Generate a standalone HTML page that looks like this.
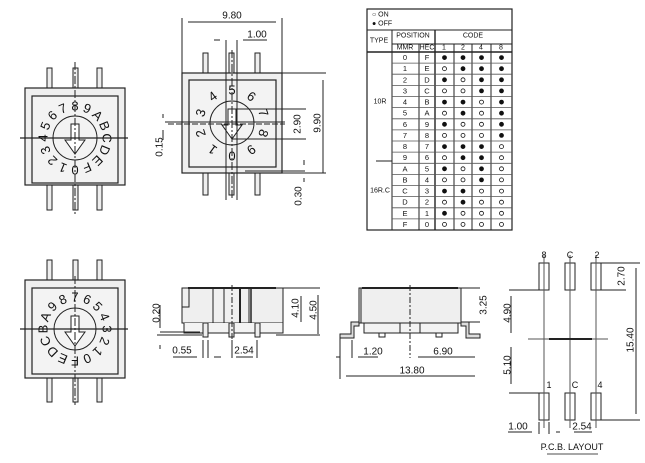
<!DOCTYPE html>
<html><head><meta charset="utf-8"><style>
html,body{margin:0;padding:0;background:#fff;}
svg{display:block;font-family:"Liberation Sans",sans-serif;}
</style></head><body>
<svg width="645" height="463" viewBox="0 0 645 463" xmlns="http://www.w3.org/2000/svg">
<g stroke="#222" fill="none" stroke-width="1">
<g fill="#eee"><rect x="47" y="68" width="5" height="20"/><rect x="73" y="68" width="5" height="20"/><rect x="97" y="68" width="5" height="20"/>
<rect x="47" y="185" width="5" height="25"/><rect x="73" y="185" width="5" height="25"/><rect x="97" y="185" width="5" height="25"/></g>
<rect x="25" y="88" width="100" height="97" fill="#efefef" stroke-width="1.2"/>
<rect x="32" y="96" width="86" height="87" fill="#f3f3f3" stroke-width="1.2"/>
<circle cx="75" cy="138" r="22" fill="#f3f3f3"/>
<path d="M71 124h8v16h6l-10 14l-10-14h6z" fill="#fff"/>
<line x1="20" y1="138" x2="128" y2="138" stroke-width="1.2"/>
<line x1="75" y1="62" x2="75" y2="215" stroke-dasharray="8 2 2 2"/>
<g fill="#eee"><rect x="203" y="53" width="5" height="20"/><rect x="229" y="53" width="5" height="20"/><rect x="255" y="53" width="5" height="20"/>
<rect x="203" y="173" width="5" height="22"/><rect x="229" y="173" width="5" height="22"/><rect x="255" y="173" width="5" height="22"/></g>
<rect x="182" y="73" width="100" height="100" fill="#efefef" stroke-width="1.2"/>
<rect x="189" y="80" width="87" height="87" fill="#f3f3f3" stroke-width="1.2"/>
<circle cx="232" cy="123" r="22" fill="#f3f3f3"/>
<path d="M228 109h8v16h6l-10 14l-10-14h6z" fill="#fff"/>
<line x1="226" y1="40" x2="226" y2="200"/><line x1="237" y1="40" x2="237" y2="200"/>
<line x1="232" y1="50" x2="232" y2="200" stroke-dasharray="8 2 2 2"/>
<line x1="165" y1="122" x2="285" y2="122"/><line x1="168" y1="124" x2="285" y2="124" stroke-dasharray="6 2"/>
<line x1="182" y1="18" x2="182" y2="73"/><line x1="282" y1="18" x2="282" y2="73"/>
<line x1="188" y1="22" x2="276" y2="22"/>
<line x1="214" y1="40" x2="220" y2="40"/><line x1="243" y1="40" x2="267" y2="40"/>
<line x1="282" y1="73" x2="326" y2="73"/><line x1="256" y1="173" x2="326" y2="173"/>
<line x1="323" y1="80" x2="323" y2="173"/>
<line x1="232" y1="109" x2="306" y2="109"/><line x1="232" y1="139" x2="306" y2="139"/>
<line x1="163" y1="114" x2="163" y2="118"/><line x1="163" y1="130" x2="163" y2="140"/>
<line x1="245" y1="171" x2="305" y2="171"/>
<line x1="304" y1="160" x2="304" y2="165"/><line x1="304" y1="178" x2="304" y2="182"/>
<rect x="367" y="9" width="145" height="221" stroke-width="1.2"/>
<line x1="367" y1="30" x2="512" y2="30"/>
<line x1="392" y1="44" x2="435" y2="44"/><line x1="435" y1="44" x2="512" y2="44"/>
<line x1="392" y1="52" x2="512" y2="52" stroke-width="1.5"/>
<line x1="367" y1="52" x2="392" y2="52" stroke-width="1.5"/>
<line x1="392" y1="30" x2="392" y2="230"/><line x1="419" y1="44" x2="419" y2="230"/>
<line x1="435" y1="30" x2="435" y2="230" stroke-width="1.4"/>
<line x1="454" y1="44" x2="454" y2="230"/><line x1="472" y1="44" x2="472" y2="230"/><line x1="491" y1="44" x2="491" y2="230"/>
<g stroke="#555" stroke-width="0.8">
<line x1="392" y1="63.1" x2="512" y2="63.1"/><line x1="392" y1="74.2" x2="512" y2="74.2"/><line x1="392" y1="85.4" x2="512" y2="85.4"/><line x1="392" y1="96.5" x2="512" y2="96.5"/><line x1="392" y1="107.6" x2="512" y2="107.6"/><line x1="392" y1="118.8" x2="512" y2="118.8"/><line x1="392" y1="129.9" x2="512" y2="129.9"/><line x1="392" y1="141" x2="512" y2="141"/><line x1="392" y1="152.1" x2="512" y2="152.1"/><line x1="392" y1="163.3" x2="512" y2="163.3"/><line x1="392" y1="174.4" x2="512" y2="174.4"/><line x1="392" y1="185.5" x2="512" y2="185.5"/><line x1="392" y1="196.6" x2="512" y2="196.6"/><line x1="392" y1="207.8" x2="512" y2="207.8"/><line x1="392" y1="218.9" x2="512" y2="218.9"/>
</g>
<line x1="376" y1="161" x2="392" y2="161"/>
<g fill="#eee"><rect x="47" y="260" width="5" height="20"/><rect x="73" y="260" width="5" height="20"/><rect x="97" y="260" width="5" height="20"/>
<rect x="47" y="378" width="5" height="24"/><rect x="73" y="378" width="5" height="24"/><rect x="97" y="378" width="5" height="24"/></g>
<rect x="25" y="280" width="100" height="98" fill="#efefef" stroke-width="1.2"/>
<rect x="32" y="288" width="86" height="86" fill="#f3f3f3" stroke-width="1.2"/>
<circle cx="75" cy="329" r="21" fill="#f3f3f3"/>
<path d="M71 316h8v16h6l-10 14l-10-14h6z" fill="#fff"/>
<line x1="20" y1="329" x2="128" y2="329" stroke-width="1.2"/>
<line x1="75" y1="276" x2="75" y2="405" stroke-dasharray="8 2 2 2"/>
<rect x="182" y="288" width="101" height="35" fill="#efefef"/>
<line x1="188" y1="288" x2="276" y2="288" stroke-width="2"/>
<rect x="182" y="288" width="7" height="19"/>
<line x1="213" y1="288" x2="213" y2="323"/><line x1="224" y1="288" x2="224" y2="323"/><line x1="240" y1="288" x2="240" y2="323" stroke-width="2"/><line x1="249" y1="288" x2="249" y2="323"/><line x1="251" y1="288" x2="251" y2="323" stroke-width="1.5"/>
<path d="M184 323v10h99v-10" fill="#f3f3f3"/>
<rect x="203" y="323" width="5" height="14" fill="#eee"/><rect x="229" y="323" width="5" height="14" fill="#eee"/><rect x="255" y="323" width="5" height="14" fill="#eee"/>
<line x1="232" y1="285" x2="232" y2="340" stroke-dasharray="6 2 2 2"/>
<line x1="157" y1="335" x2="202" y2="335"/><line x1="160" y1="332" x2="200" y2="332"/>
<line x1="283" y1="288" x2="320" y2="288"/><line x1="276" y1="335" x2="320" y2="335"/>
<line x1="301" y1="296" x2="301" y2="322"/><line x1="318" y1="295" x2="318" y2="334"/>
<line x1="160" y1="305" x2="160" y2="328"/><line x1="160" y1="345" x2="160" y2="349"/>
<line x1="173" y1="357" x2="197" y2="357"/><line x1="203" y1="340" x2="203" y2="358"/><line x1="208" y1="340" x2="208" y2="358"/><line x1="214" y1="357" x2="221" y2="357"/>
<line x1="232" y1="340" x2="232" y2="358"/><line x1="257" y1="340" x2="257" y2="358"/><line x1="236" y1="357" x2="253" y2="357"/>
<rect x="359" y="288" width="102" height="35" fill="#efefef"/>
<line x1="362" y1="288" x2="458" y2="288" stroke-width="2"/><line x1="361" y1="288" x2="361" y2="323"/>
<rect x="364" y="323" width="94" height="10" fill="#f3f3f3"/>
<line x1="400" y1="323" x2="400" y2="333"/><line x1="420" y1="323" x2="420" y2="333"/>
<path d="M359 322h-8v12h-11v4h14v-12h5z" fill="#ddd"/>
<path d="M461 322h8v12h11v4h-14v-12h-5z" fill="#ddd"/>
<rect x="379" y="333" width="6" height="4"/><rect x="436" y="333" width="6" height="4"/>
<line x1="410" y1="285" x2="410" y2="358" stroke-dasharray="6 2 2 2"/>
<line x1="340" y1="338" x2="340" y2="379"/><line x1="352" y1="340" x2="352" y2="358"/>
<line x1="336" y1="357" x2="340" y2="357"/><line x1="358" y1="357" x2="378" y2="357"/><line x1="418" y1="357" x2="475" y2="357"/>
<line x1="346" y1="376" x2="475" y2="376"/>
<line x1="461" y1="288" x2="480" y2="288"/><line x1="469" y1="322" x2="480" y2="322"/>
<rect x="539" y="263" width="10" height="27"/><rect x="565" y="263" width="10" height="27"/><rect x="591" y="263" width="10" height="27"/>
<rect x="539" y="393" width="10" height="27"/><rect x="565" y="393" width="10" height="27"/><rect x="591" y="393" width="10" height="27"/>
<path d="M544 255V428M570 255V428M596 255V428" stroke="#555"/>
<path d="M528 339H608" stroke="#555"/>
<line x1="549" y1="339" x2="592" y2="339" stroke-width="2"/>
<line x1="509" y1="290" x2="539" y2="290"/><line x1="509" y1="393" x2="539" y2="393"/>
<line x1="601" y1="263" x2="640" y2="263"/><line x1="601" y1="290" x2="626" y2="290"/><line x1="601" y1="420" x2="640" y2="420"/>
<line x1="636" y1="268" x2="636" y2="414"/>
<line x1="511" y1="296" x2="511" y2="333"/><line x1="511" y1="347" x2="511" y2="384"/>
<line x1="508" y1="432" x2="532" y2="432"/><line x1="539" y1="422" x2="539" y2="434"/><line x1="549" y1="422" x2="549" y2="434"/><line x1="556" y1="432" x2="560" y2="432"/>
<line x1="574" y1="432" x2="592" y2="432"/>
<line x1="547" y1="454" x2="598" y2="454" stroke="#888" stroke-width="1.5"/>
</g>

<g font-size="10" fill="#111" text-anchor="middle" dominant-baseline="central">
<g font-size="13">
<text transform="translate(75,170) rotate(-180)">0</text>
<text transform="translate(62.8,167.6) rotate(-157.5)">1</text>
<text transform="translate(52.4,160.6) rotate(-135)">2</text>
<text transform="translate(45.4,150.2) rotate(-112.5)">3</text>
<text transform="translate(43,138) rotate(-90)">4</text>
<text transform="translate(45.4,125.8) rotate(-67.5)">5</text>
<text transform="translate(52.4,115.4) rotate(-45)">6</text>
<text transform="translate(62.8,108.4) rotate(-22.5)">7</text>
<text transform="translate(75,106)">8</text>
<text transform="translate(87.2,108.4) rotate(22.5)">9</text>
<text transform="translate(97.6,115.4) rotate(45)">A</text>
<text transform="translate(104.6,125.8) rotate(67.5)">B</text>
<text transform="translate(107,138) rotate(90)">C</text>
<text transform="translate(104.6,150.2) rotate(112.5)">D</text>
<text transform="translate(97.6,160.6) rotate(135)">E</text>
<text transform="translate(87.2,167.6) rotate(157.5)">F</text>
</g>
<g font-size="13">
<text transform="translate(75,297)">7</text>
<text transform="translate(87.2,299.4) rotate(22.5)">6</text>
<text transform="translate(97.6,306.4) rotate(45)">5</text>
<text transform="translate(104.6,316.8) rotate(67.5)">4</text>
<text transform="translate(107,329) rotate(90)">3</text>
<text transform="translate(104.6,341.2) rotate(112.5)">2</text>
<text transform="translate(97.6,351.6) rotate(135)">1</text>
<text transform="translate(87.2,358.6) rotate(157.5)">0</text>
<text transform="translate(75,361) rotate(180)">F</text>
<text transform="translate(62.8,358.6) rotate(-157.5)">E</text>
<text transform="translate(52.4,351.6) rotate(-135)">D</text>
<text transform="translate(45.4,341.2) rotate(-112.5)">C</text>
<text transform="translate(43,329) rotate(-90)">B</text>
<text transform="translate(45.4,316.8) rotate(-67.5)">A</text>
<text transform="translate(52.4,306.4) rotate(-45)">9</text>
<text transform="translate(62.8,299.4) rotate(-22.5)">8</text>
</g>
<g font-size="13">
<text transform="translate(232,156)">0</text>
<text transform="translate(212.6,149.7) rotate(-144)">1</text>
<text transform="translate(200.6,133.2) rotate(-108)">2</text>
<text transform="translate(200.6,112.8) rotate(-72)">3</text>
<text transform="translate(212.6,96.3) rotate(-36)">4</text>
<text transform="translate(232,90)">5</text>
<text transform="translate(251.4,96.3) rotate(36)">6</text>
<text transform="translate(263.4,112.8) rotate(72)">7</text>
<text transform="translate(263.4,133.2) rotate(108)">8</text>
<text transform="translate(251.4,149.7) rotate(144)">9</text>
</g>
<text x="232" y="16">9.80</text>
<text x="257" y="35">1.00</text>
<text transform="translate(318,123) rotate(-90)">9.90</text>
<text transform="translate(298,124) rotate(-90)">2.90</text>
<text transform="translate(160,147) rotate(-90)">0.15</text>
<text transform="translate(299,196) rotate(-90)">0.30</text>
<text transform="translate(157,313) rotate(-90)">0.20</text>
<text transform="translate(296,308) rotate(-90)">4.10</text>
<text transform="translate(314,310) rotate(-90)">4.50</text>
<text x="182" y="351">0.55</text>
<text x="244" y="351">2.54</text>
<text x="373" y="352">1.20</text>
<text x="443" y="352">6.90</text>
<text x="412" y="371">13.80</text>
<text transform="translate(484,305) rotate(-90)">3.25</text>
<text x="544" y="255" font-size="9">8</text><text x="570" y="255" font-size="9">C</text><text x="597" y="255" font-size="9">2</text>
<text x="549" y="385" font-size="9">1</text><text x="575" y="385" font-size="9">C</text><text x="600" y="385" font-size="9">4</text>
<text transform="translate(622,276) rotate(-90)">2.70</text>
<text transform="translate(631,340) rotate(-90)">15.40</text>
<text transform="translate(508,313) rotate(-90)">4.90</text>
<text transform="translate(508,365) rotate(-90)">5.10</text>
<text x="518" y="427">1.00</text>
<text x="582" y="427">2.54</text>
<text x="572" y="447" font-size="9">P.C.B.  LAYOUT</text>
</g>

<g font-size="7" fill="#111" text-anchor="middle" dominant-baseline="central">
<text x="372" y="15" text-anchor="start">○ ON</text>
<text x="372" y="24" text-anchor="start">● OFF</text>
<text x="379" y="41">TYPE</text>
<text x="413" y="36">POSITION</text>
<text x="473" y="36">CODE</text>
<text x="405" y="48">MMR</text><text x="427" y="48">HEC</text>
<text x="444" y="48">1</text><text x="463" y="48">2</text><text x="481" y="48">4</text><text x="501" y="48">8</text>
<text x="380" y="102">10R</text>
<text x="380" y="191">16R.C</text>
</g>
<g font-size="7.5" fill="#111" text-anchor="middle" dominant-baseline="central">
<text x="405" y="57.6">0</text><text x="427" y="57.6">F</text>
<text x="405" y="68.7">1</text><text x="427" y="68.7">E</text>
<text x="405" y="79.8">2</text><text x="427" y="79.8">D</text>
<text x="405" y="90.9">3</text><text x="427" y="90.9">C</text>
<text x="405" y="102.1">4</text><text x="427" y="102.1">B</text>
<text x="405" y="113.2">5</text><text x="427" y="113.2">A</text>
<text x="405" y="124.3">6</text><text x="427" y="124.3">9</text>
<text x="405" y="135.4">7</text><text x="427" y="135.4">8</text>
<text x="405" y="146.6">8</text><text x="427" y="146.6">7</text>
<text x="405" y="157.7">9</text><text x="427" y="157.7">6</text>
<text x="405" y="168.8">A</text><text x="427" y="168.8">5</text>
<text x="405" y="179.9">B</text><text x="427" y="179.9">4</text>
<text x="405" y="191.1">C</text><text x="427" y="191.1">3</text>
<text x="405" y="202.2">D</text><text x="427" y="202.2">2</text>
<text x="405" y="213.3">E</text><text x="427" y="213.3">1</text>
<text x="405" y="224.4">F</text><text x="427" y="224.4">0</text>
</g>
<g stroke="#111" stroke-width="0.8">
<g fill="#111">
<circle cx="444.5" cy="57.6" r="2"/><circle cx="463" cy="57.6" r="2"/><circle cx="481.5" cy="57.6" r="2"/><circle cx="501.5" cy="57.6" r="2"/>
<circle cx="463" cy="68.7" r="2"/><circle cx="481.5" cy="68.7" r="2"/><circle cx="501.5" cy="68.7" r="2"/>
<circle cx="444.5" cy="79.8" r="2"/><circle cx="481.5" cy="79.8" r="2"/><circle cx="501.5" cy="79.8" r="2"/>
<circle cx="481.5" cy="90.9" r="2"/><circle cx="501.5" cy="90.9" r="2"/>
<circle cx="444.5" cy="102.1" r="2"/><circle cx="463" cy="102.1" r="2"/><circle cx="501.5" cy="102.1" r="2"/>
<circle cx="463" cy="113.2" r="2"/><circle cx="501.5" cy="113.2" r="2"/>
<circle cx="444.5" cy="124.3" r="2"/><circle cx="501.5" cy="124.3" r="2"/>
<circle cx="501.5" cy="135.4" r="2"/>
<circle cx="444.5" cy="146.6" r="2"/><circle cx="463" cy="146.6" r="2"/><circle cx="481.5" cy="146.6" r="2"/>
<circle cx="463" cy="157.7" r="2"/><circle cx="481.5" cy="157.7" r="2"/>
<circle cx="444.5" cy="168.8" r="2"/><circle cx="481.5" cy="168.8" r="2"/>
<circle cx="481.5" cy="179.9" r="2"/>
<circle cx="444.5" cy="191.1" r="2"/><circle cx="463" cy="191.1" r="2"/>
<circle cx="463" cy="202.2" r="2"/>
<circle cx="444.5" cy="213.3" r="2"/>
</g>
<g fill="none">
<circle cx="444.5" cy="68.7" r="2"/>
<circle cx="463" cy="79.8" r="2"/>
<circle cx="444.5" cy="90.9" r="2"/><circle cx="463" cy="90.9" r="2"/>
<circle cx="481.5" cy="102.1" r="2"/>
<circle cx="444.5" cy="113.2" r="2"/><circle cx="481.5" cy="113.2" r="2"/>
<circle cx="463" cy="124.3" r="2"/><circle cx="481.5" cy="124.3" r="2"/>
<circle cx="444.5" cy="135.4" r="2"/><circle cx="463" cy="135.4" r="2"/><circle cx="481.5" cy="135.4" r="2"/>
<circle cx="501.5" cy="146.6" r="2"/>
<circle cx="444.5" cy="157.7" r="2"/><circle cx="501.5" cy="157.7" r="2"/>
<circle cx="463" cy="168.8" r="2"/><circle cx="501.5" cy="168.8" r="2"/>
<circle cx="444.5" cy="179.9" r="2"/><circle cx="463" cy="179.9" r="2"/><circle cx="501.5" cy="179.9" r="2"/>
<circle cx="481.5" cy="191.1" r="2"/><circle cx="501.5" cy="191.1" r="2"/>
<circle cx="444.5" cy="202.2" r="2"/><circle cx="481.5" cy="202.2" r="2"/><circle cx="501.5" cy="202.2" r="2"/>
<circle cx="463" cy="213.3" r="2"/><circle cx="481.5" cy="213.3" r="2"/><circle cx="501.5" cy="213.3" r="2"/>
<circle cx="444.5" cy="224.4" r="2"/><circle cx="463" cy="224.4" r="2"/><circle cx="481.5" cy="224.4" r="2"/><circle cx="501.5" cy="224.4" r="2"/>
</g>
</g>
</svg>
</body></html>
